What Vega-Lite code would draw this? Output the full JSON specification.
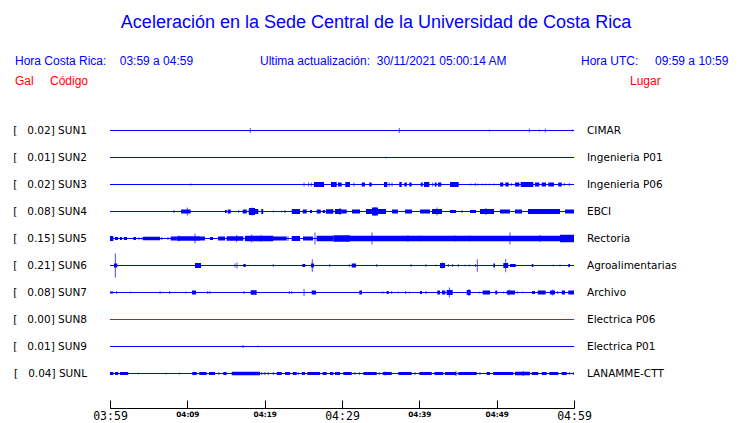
{
  "$schema": "https://vega.github.io/schema/vega-lite/v6.json",
  "width": 464,
  "height": 270,
  "autosize": {"type": "none"},
  "padding": {"left": 110, "top": 117, "right": 166, "bottom": 36},
  "background": "white",
  "title": {"text": "Aceleración en la Sede Central de la Universidad de Costa Rica", "color": "#0000ff", "font": "Liberation Sans", "fontSize": 18, "fontWeight": "normal", "anchor": "middle", "offset": 23, "dx": 34},
  "config": {"view": {"stroke": null}},
  "datasets": {
    "estaciones": [
      {"fila": 1, "codigo": "SUN1", "gal": 0.02, "lugar": "CIMAR"},
      {"fila": 2, "codigo": "SUN2", "gal": 0.01, "lugar": "Ingenieria P01"},
      {"fila": 3, "codigo": "SUN3", "gal": 0.02, "lugar": "Ingenieria P06"},
      {"fila": 4, "codigo": "SUN4", "gal": 0.08, "lugar": "EBCI"},
      {"fila": 5, "codigo": "SUN5", "gal": 0.15, "lugar": "Rectoria"},
      {"fila": 6, "codigo": "SUN6", "gal": 0.21, "lugar": "Agroalimentarias"},
      {"fila": 7, "codigo": "SUN7", "gal": 0.08, "lugar": "Archivo"},
      {"fila": 8, "codigo": "SUN8", "gal": 0.00, "lugar": "Electrica P06"},
      {"fila": 9, "codigo": "SUN9", "gal": 0.01, "lugar": "Electrica P01"},
      {"fila": 10, "codigo": "SUNL", "gal": 0.04, "lugar": "LANAMME-CTT"}
    ],
    "picos": [
      {"codigo": "SUN1", "t": 18.14, "amp": 0.05}, {"codigo": "SUN1", "t": 37.41, "amp": 0.05}, {"codigo": "SUN1", "t": 49.05, "amp": 0.02}, {"codigo": "SUN1", "t": 54.22, "amp": 0.04}, {"codigo": "SUN1", "t": 55.51, "amp": 0.02}, {"codigo": "SUN1", "t": 56.29, "amp": 0.04}, {"codigo": "SUN1", "t": 59.83, "amp": 0.02},
      {"codigo": "SUN2", "t": 35.69, "amp": 0.02},
      {"codigo": "SUN3", "t": 10.47, "amp": 0.02}, {"codigo": "SUN3", "t": 25.09, "amp": 0.04}, {"codigo": "SUN3", "t": 25.69, "amp": 0.04}, {"codigo": "SUN3", "t": 26.03, "amp": 0.04}, {"codigo": "SUN3", "t": 31.55, "amp": 0.04}, {"codigo": "SUN3", "t": 36.12, "amp": 0.04}, {"codigo": "SUN3", "t": 36.47, "amp": 0.04}, {"codigo": "SUN3", "t": 41.73, "amp": 0.04}, {"codigo": "SUN3", "t": 46.64, "amp": 0.02}, {"codigo": "SUN3", "t": 47.24, "amp": 0.03}, {"codigo": "SUN3", "t": 47.59, "amp": 0.02}, {"codigo": "SUN3", "t": 48.10, "amp": 0.02}, {"codigo": "SUN3", "t": 48.53, "amp": 0.02}, {"codigo": "SUN3", "t": 49.05, "amp": 0.02}, {"codigo": "SUN3", "t": 49.66, "amp": 0.02}, {"codigo": "SUN3", "t": 51.89, "amp": 0.03}, {"codigo": "SUN3", "t": 58.75, "amp": 0.03}, {"codigo": "SUN3", "t": 59.39, "amp": 0.03},
      {"codigo": "SUN4", "t": 8.28, "amp": 0.03}, {"codigo": "SUN4", "t": 10.00, "amp": 0.08}, {"codigo": "SUN4", "t": 16.64, "amp": 0.03}, {"codigo": "SUN4", "t": 18.36, "amp": 0.08}, {"codigo": "SUN4", "t": 21.12, "amp": 0.02}, {"codigo": "SUN4", "t": 22.20, "amp": 0.02}, {"codigo": "SUN4", "t": 22.63, "amp": 0.03}, {"codigo": "SUN4", "t": 29.74, "amp": 0.07}, {"codigo": "SUN4", "t": 34.27, "amp": 0.09}, {"codigo": "SUN4", "t": 42.28, "amp": 0.08}, {"codigo": "SUN4", "t": 45.52, "amp": 0.03}, {"codigo": "SUN4", "t": 48.62, "amp": 0.07},
      {"codigo": "SUN5", "t": 3.75, "amp": 0.03}, {"codigo": "SUN5", "t": 4.14, "amp": 0.03}, {"codigo": "SUN5", "t": 6.69, "amp": 0.03}, {"codigo": "SUN5", "t": 7.50, "amp": 0.03}, {"codigo": "SUN5", "t": 8.92, "amp": 0.06}, {"codigo": "SUN5", "t": 10.99, "amp": 0.10}, {"codigo": "SUN5", "t": 16.38, "amp": 0.07}, {"codigo": "SUN5", "t": 18.32, "amp": 0.08}, {"codigo": "SUN5", "t": 19.53, "amp": 0.07}, {"codigo": "SUN5", "t": 23.02, "amp": 0.05}, {"codigo": "SUN5", "t": 26.51, "amp": 0.12}, {"codigo": "SUN5", "t": 33.88, "amp": 0.12}, {"codigo": "SUN5", "t": 38.53, "amp": 0.07}, {"codigo": "SUN5", "t": 40.09, "amp": 0.06}, {"codigo": "SUN5", "t": 44.61, "amp": 0.06}, {"codigo": "SUN5", "t": 46.55, "amp": 0.06}, {"codigo": "SUN5", "t": 51.72, "amp": 0.12}, {"codigo": "SUN5", "t": 55.60, "amp": 0.07},
      {"codigo": "SUN6", "t": 0.69, "amp": 0.24}, {"codigo": "SUN6", "t": 16.16, "amp": 0.04}, {"codigo": "SUN6", "t": 16.42, "amp": 0.06}, {"codigo": "SUN6", "t": 21.12, "amp": 0.03}, {"codigo": "SUN6", "t": 26.16, "amp": 0.127}, {"codigo": "SUN6", "t": 28.41, "amp": 0.03}, {"codigo": "SUN6", "t": 30.94, "amp": 0.03}, {"codigo": "SUN6", "t": 34.49, "amp": 0.03}, {"codigo": "SUN6", "t": 38.92, "amp": 0.03}, {"codigo": "SUN6", "t": 40.86, "amp": 0.03}, {"codigo": "SUN6", "t": 42.16, "amp": 0.02}, {"codigo": "SUN6", "t": 42.97, "amp": 0.06}, {"codigo": "SUN6", "t": 43.75, "amp": 0.03}, {"codigo": "SUN6", "t": 44.31, "amp": 0.03}, {"codigo": "SUN6", "t": 45.04, "amp": 0.03}, {"codigo": "SUN6", "t": 45.91, "amp": 0.02}, {"codigo": "SUN6", "t": 46.46, "amp": 0.02}, {"codigo": "SUN6", "t": 47.24, "amp": 0.03}, {"codigo": "SUN6", "t": 47.50, "amp": 0.127}, {"codigo": "SUN6", "t": 51.17, "amp": 0.137}, {"codigo": "SUN6", "t": 57.32, "amp": 0.02}, {"codigo": "SUN6", "t": 58.19, "amp": 0.02},
      {"codigo": "SUN7", "t": 0.87, "amp": 0.03}, {"codigo": "SUN7", "t": 2.68, "amp": 0.02}, {"codigo": "SUN7", "t": 6.47, "amp": 0.03}, {"codigo": "SUN7", "t": 7.72, "amp": 0.03}, {"codigo": "SUN7", "t": 9.79, "amp": 0.02}, {"codigo": "SUN7", "t": 12.63, "amp": 0.03}, {"codigo": "SUN7", "t": 12.93, "amp": 0.03}, {"codigo": "SUN7", "t": 17.33, "amp": 0.03}, {"codigo": "SUN7", "t": 23.19, "amp": 0.03}, {"codigo": "SUN7", "t": 23.50, "amp": 0.03}, {"codigo": "SUN7", "t": 25.09, "amp": 0.07}, {"codigo": "SUN7", "t": 27.89, "amp": 0.01}, {"codigo": "SUN7", "t": 35.13, "amp": 0.02}, {"codigo": "SUN7", "t": 35.39, "amp": 0.02}, {"codigo": "SUN7", "t": 36.43, "amp": 0.03}, {"codigo": "SUN7", "t": 37.28, "amp": 0.02}, {"codigo": "SUN7", "t": 38.24, "amp": 0.03}, {"codigo": "SUN7", "t": 38.70, "amp": 0.02}, {"codigo": "SUN7", "t": 40.86, "amp": 0.03}, {"codigo": "SUN7", "t": 43.88, "amp": 0.10}, {"codigo": "SUN7", "t": 46.42, "amp": 0.07}, {"codigo": "SUN7", "t": 47.75, "amp": 0.02}, {"codigo": "SUN7", "t": 50.86, "amp": 0.02}, {"codigo": "SUN7", "t": 51.60, "amp": 0.06}, {"codigo": "SUN7", "t": 52.72, "amp": 0.02}, {"codigo": "SUN7", "t": 53.37, "amp": 0.02}, {"codigo": "SUN7", "t": 57.25, "amp": 0.06}, {"codigo": "SUN7", "t": 57.89, "amp": 0.03},
      {"codigo": "SUN9", "t": 17.20, "amp": 0.03}, {"codigo": "SUN9", "t": 19.14, "amp": 0.02},
      {"codigo": "SUNL", "t": 3.66, "amp": 0.02}, {"codigo": "SUNL", "t": 7.24, "amp": 0.02}, {"codigo": "SUNL", "t": 8.96, "amp": 0.02}, {"codigo": "SUNL", "t": 14.09, "amp": 0.03}, {"codigo": "SUNL", "t": 19.62, "amp": 0.03}, {"codigo": "SUNL", "t": 20.04, "amp": 0.03}, {"codigo": "SUNL", "t": 20.47, "amp": 0.03}, {"codigo": "SUNL", "t": 21.12, "amp": 0.03}, {"codigo": "SUNL", "t": 24.35, "amp": 0.03}, {"codigo": "SUNL", "t": 31.68, "amp": 0.03}, {"codigo": "SUNL", "t": 32.24, "amp": 0.03}, {"codigo": "SUNL", "t": 34.82, "amp": 0.03}, {"codigo": "SUNL", "t": 35.56, "amp": 0.04}, {"codigo": "SUNL", "t": 39.44, "amp": 0.03}, {"codigo": "SUNL", "t": 44.74, "amp": 0.05}, {"codigo": "SUNL", "t": 47.84, "amp": 0.03}, {"codigo": "SUNL", "t": 53.44, "amp": 0.05}, {"codigo": "SUNL", "t": 59.39, "amp": 0.03}, {"codigo": "SUNL", "t": 59.91, "amp": 0.03}
    ],
    "rafagas": [
      {"codigo": "SUN3", "t0": 26.38, "t1": 27.67, "amp": 0.05}, {"codigo": "SUN3", "t0": 28.58, "t1": 29.31, "amp": 0.05}, {"codigo": "SUN3", "t0": 29.48, "t1": 29.96, "amp": 0.04}, {"codigo": "SUN3", "t0": 30.43, "t1": 31.03, "amp": 0.05}, {"codigo": "SUN3", "t0": 32.55, "t1": 32.97, "amp": 0.04}, {"codigo": "SUN3", "t0": 33.53, "t1": 33.84, "amp": 0.04}, {"codigo": "SUN3", "t0": 35.43, "t1": 35.86, "amp": 0.05}, {"codigo": "SUN3", "t0": 37.41, "t1": 37.72, "amp": 0.05}, {"codigo": "SUN3", "t0": 38.06, "t1": 38.37, "amp": 0.04}, {"codigo": "SUN3", "t0": 38.70, "t1": 39.01, "amp": 0.04}, {"codigo": "SUN3", "t0": 40.18, "t1": 40.44, "amp": 0.04}, {"codigo": "SUN3", "t0": 40.60, "t1": 41.29, "amp": 0.05}, {"codigo": "SUN3", "t0": 41.99, "t1": 42.24, "amp": 0.04}, {"codigo": "SUN3", "t0": 42.41, "t1": 42.84, "amp": 0.04}, {"codigo": "SUN3", "t0": 43.97, "t1": 45.09, "amp": 0.05}, {"codigo": "SUN3", "t0": 50.43, "t1": 50.86, "amp": 0.04}, {"codigo": "SUN3", "t0": 51.12, "t1": 51.56, "amp": 0.04}, {"codigo": "SUN3", "t0": 52.37, "t1": 52.93, "amp": 0.04}, {"codigo": "SUN3", "t0": 53.11, "t1": 54.74, "amp": 0.05}, {"codigo": "SUN3", "t0": 54.96, "t1": 55.51, "amp": 0.04}, {"codigo": "SUN3", "t0": 55.82, "t1": 56.38, "amp": 0.04}, {"codigo": "SUN3", "t0": 56.68, "t1": 57.41, "amp": 0.04}, {"codigo": "SUN3", "t0": 57.97, "t1": 58.41, "amp": 0.04},
      {"codigo": "SUN4", "t0": 9.18, "t1": 10.44, "amp": 0.04}, {"codigo": "SUN4", "t0": 14.87, "t1": 15.09, "amp": 0.03}, {"codigo": "SUN4", "t0": 15.22, "t1": 15.61, "amp": 0.04}, {"codigo": "SUN4", "t0": 17.16, "t1": 17.68, "amp": 0.04}, {"codigo": "SUN4", "t0": 17.94, "t1": 19.18, "amp": 0.05}, {"codigo": "SUN4", "t0": 17.97, "t1": 18.75, "amp": 0.07}, {"codigo": "SUN4", "t0": 19.56, "t1": 19.81, "amp": 0.05}, {"codigo": "SUN4", "t0": 23.50, "t1": 24.57, "amp": 0.05}, {"codigo": "SUN4", "t0": 24.92, "t1": 25.44, "amp": 0.04}, {"codigo": "SUN4", "t0": 25.86, "t1": 26.12, "amp": 0.03}, {"codigo": "SUN4", "t0": 26.73, "t1": 27.25, "amp": 0.04}, {"codigo": "SUN4", "t0": 27.50, "t1": 27.80, "amp": 0.03}, {"codigo": "SUN4", "t0": 27.93, "t1": 28.88, "amp": 0.045}, {"codigo": "SUN4", "t0": 29.09, "t1": 29.96, "amp": 0.05}, {"codigo": "SUN4", "t0": 29.96, "t1": 30.61, "amp": 0.04}, {"codigo": "SUN4", "t0": 31.29, "t1": 32.33, "amp": 0.04}, {"codigo": "SUN4", "t0": 33.10, "t1": 35.69, "amp": 0.05}, {"codigo": "SUN4", "t0": 33.88, "t1": 34.66, "amp": 0.08}, {"codigo": "SUN4", "t0": 36.47, "t1": 37.24, "amp": 0.04}, {"codigo": "SUN4", "t0": 38.15, "t1": 39.05, "amp": 0.04}, {"codigo": "SUN4", "t0": 40.09, "t1": 41.38, "amp": 0.04}, {"codigo": "SUN4", "t0": 41.64, "t1": 42.93, "amp": 0.05}, {"codigo": "SUN4", "t0": 43.97, "t1": 44.74, "amp": 0.03}, {"codigo": "SUN4", "t0": 46.55, "t1": 47.33, "amp": 0.03}, {"codigo": "SUN4", "t0": 47.84, "t1": 49.66, "amp": 0.05}, {"codigo": "SUN4", "t0": 50.43, "t1": 51.72, "amp": 0.04}, {"codigo": "SUN4", "t0": 52.37, "t1": 53.28, "amp": 0.04}, {"codigo": "SUN4", "t0": 54.05, "t1": 58.19, "amp": 0.05}, {"codigo": "SUN4", "t0": 58.84, "t1": 60.0, "amp": 0.04},
      {"codigo": "SUN5", "t0": 0.0, "t1": 0.43, "amp": 0.05}, {"codigo": "SUN5", "t0": 0.65, "t1": 1.03, "amp": 0.03}, {"codigo": "SUN5", "t0": 1.29, "t1": 1.55, "amp": 0.03}, {"codigo": "SUN5", "t0": 1.81, "t1": 2.20, "amp": 0.03}, {"codigo": "SUN5", "t0": 3.01, "t1": 3.36, "amp": 0.03}, {"codigo": "SUN5", "t0": 4.27, "t1": 6.47, "amp": 0.035}, {"codigo": "SUN5", "t0": 7.85, "t1": 8.62, "amp": 0.04}, {"codigo": "SUN5", "t0": 8.62, "t1": 11.64, "amp": 0.045}, {"codigo": "SUN5", "t0": 11.64, "t1": 12.28, "amp": 0.04}, {"codigo": "SUN5", "t0": 12.93, "t1": 13.32, "amp": 0.03}, {"codigo": "SUN5", "t0": 13.97, "t1": 14.87, "amp": 0.04}, {"codigo": "SUN5", "t0": 15.09, "t1": 17.24, "amp": 0.045}, {"codigo": "SUN5", "t0": 17.46, "t1": 21.12, "amp": 0.055}, {"codigo": "SUN5", "t0": 21.08, "t1": 22.85, "amp": 0.04}, {"codigo": "SUN5", "t0": 23.50, "t1": 24.57, "amp": 0.05}, {"codigo": "SUN5", "t0": 24.96, "t1": 26.25, "amp": 0.04}, {"codigo": "SUN5", "t0": 26.73, "t1": 28.88, "amp": 0.055}, {"codigo": "SUN5", "t0": 28.88, "t1": 31.03, "amp": 0.065}, {"codigo": "SUN5", "t0": 31.03, "t1": 60.0, "amp": 0.055}, {"codigo": "SUN5", "t0": 58.19, "t1": 60.0, "amp": 0.075},
      {"codigo": "SUN6", "t0": 0.52, "t1": 0.94, "amp": 0.04}, {"codigo": "SUN6", "t0": 10.99, "t1": 11.77, "amp": 0.05}, {"codigo": "SUN6", "t0": 17.24, "t1": 17.55, "amp": 0.03}, {"codigo": "SUN6", "t0": 24.87, "t1": 25.25, "amp": 0.03}, {"codigo": "SUN6", "t0": 25.99, "t1": 26.38, "amp": 0.04}, {"codigo": "SUN6", "t0": 31.25, "t1": 31.81, "amp": 0.04}, {"codigo": "SUN6", "t0": 42.67, "t1": 43.32, "amp": 0.05}, {"codigo": "SUN6", "t0": 49.57, "t1": 49.78, "amp": 0.04}, {"codigo": "SUN6", "t0": 50.86, "t1": 51.50, "amp": 0.05}, {"codigo": "SUN6", "t0": 51.72, "t1": 52.46, "amp": 0.03}, {"codigo": "SUN6", "t0": 54.53, "t1": 54.74, "amp": 0.03}, {"codigo": "SUN6", "t0": 59.26, "t1": 59.48, "amp": 0.03},
      {"codigo": "SUN7", "t0": 0.0, "t1": 0.43, "amp": 0.02}, {"codigo": "SUN7", "t0": 10.60, "t1": 11.12, "amp": 0.04}, {"codigo": "SUN7", "t0": 18.19, "t1": 18.97, "amp": 0.045}, {"codigo": "SUN7", "t0": 26.08, "t1": 26.64, "amp": 0.04}, {"codigo": "SUN7", "t0": 32.24, "t1": 32.59, "amp": 0.04}, {"codigo": "SUN7", "t0": 35.78, "t1": 36.04, "amp": 0.03}, {"codigo": "SUN7", "t0": 40.09, "t1": 40.35, "amp": 0.03}, {"codigo": "SUN7", "t0": 42.32, "t1": 42.67, "amp": 0.04}, {"codigo": "SUN7", "t0": 42.93, "t1": 43.36, "amp": 0.04}, {"codigo": "SUN7", "t0": 43.54, "t1": 44.31, "amp": 0.05}, {"codigo": "SUN7", "t0": 46.13, "t1": 46.64, "amp": 0.05}, {"codigo": "SUN7", "t0": 48.19, "t1": 49.14, "amp": 0.04}, {"codigo": "SUN7", "t0": 49.82, "t1": 50.07, "amp": 0.04}, {"codigo": "SUN7", "t0": 51.30, "t1": 52.37, "amp": 0.04}, {"codigo": "SUN7", "t0": 54.57, "t1": 54.96, "amp": 0.03}, {"codigo": "SUN7", "t0": 55.31, "t1": 56.34, "amp": 0.04}, {"codigo": "SUN7", "t0": 56.90, "t1": 57.54, "amp": 0.04}, {"codigo": "SUN7", "t0": 58.41, "t1": 58.84, "amp": 0.04}, {"codigo": "SUN7", "t0": 59.26, "t1": 60.0, "amp": 0.04},
      {"codigo": "SUNL", "t0": 0.0, "t1": 0.43, "amp": 0.03}, {"codigo": "SUNL", "t0": 0.65, "t1": 1.07, "amp": 0.03}, {"codigo": "SUNL", "t0": 1.29, "t1": 2.37, "amp": 0.03}, {"codigo": "SUNL", "t0": 10.64, "t1": 11.21, "amp": 0.03}, {"codigo": "SUNL", "t0": 11.55, "t1": 12.50, "amp": 0.03}, {"codigo": "SUNL", "t0": 12.80, "t1": 13.58, "amp": 0.03}, {"codigo": "SUNL", "t0": 14.65, "t1": 15.09, "amp": 0.03}, {"codigo": "SUNL", "t0": 15.74, "t1": 19.40, "amp": 0.035}, {"codigo": "SUNL", "t0": 21.56, "t1": 22.20, "amp": 0.03}, {"codigo": "SUNL", "t0": 22.63, "t1": 23.28, "amp": 0.03}, {"codigo": "SUNL", "t0": 23.63, "t1": 24.14, "amp": 0.03}, {"codigo": "SUNL", "t0": 24.79, "t1": 25.22, "amp": 0.03}, {"codigo": "SUNL", "t0": 25.51, "t1": 27.16, "amp": 0.03}, {"codigo": "SUNL", "t0": 27.50, "t1": 28.02, "amp": 0.03}, {"codigo": "SUNL", "t0": 28.45, "t1": 28.88, "amp": 0.03}, {"codigo": "SUNL", "t0": 29.09, "t1": 29.74, "amp": 0.03}, {"codigo": "SUNL", "t0": 30.17, "t1": 31.25, "amp": 0.03}, {"codigo": "SUNL", "t0": 32.76, "t1": 34.49, "amp": 0.03}, {"codigo": "SUNL", "t0": 35.26, "t1": 36.43, "amp": 0.03}, {"codigo": "SUNL", "t0": 37.28, "t1": 39.01, "amp": 0.03}, {"codigo": "SUNL", "t0": 40.00, "t1": 41.60, "amp": 0.03}, {"codigo": "SUNL", "t0": 41.94, "t1": 43.10, "amp": 0.03}, {"codigo": "SUNL", "t0": 43.32, "t1": 44.74, "amp": 0.03}, {"codigo": "SUNL", "t0": 45.04, "t1": 47.42, "amp": 0.03}, {"codigo": "SUNL", "t0": 48.71, "t1": 49.14, "amp": 0.03}, {"codigo": "SUNL", "t0": 49.56, "t1": 52.15, "amp": 0.03}, {"codigo": "SUNL", "t0": 52.37, "t1": 54.31, "amp": 0.035}, {"codigo": "SUNL", "t0": 54.53, "t1": 55.38, "amp": 0.03}, {"codigo": "SUNL", "t0": 55.82, "t1": 56.47, "amp": 0.03}, {"codigo": "SUNL", "t0": 56.81, "t1": 57.97, "amp": 0.03}, {"codigo": "SUNL", "t0": 58.41, "t1": 59.06, "amp": 0.03}
    ]
  },
  "layer": [
    {
      "data": {"name": "estaciones"},
      "mark": {"type": "rule", "strokeWidth": 1},
      "encoding": {
        "x": {"datum": 0, "type": "quantitative", "scale": {"domain": [0, 60], "nice": false, "zero": false, "padding": 0},
          "axis": {"values": [0, 5, 10, 15, 20, 25, 30, 35, 40, 45, 50, 55, 60], "title": null, "grid": false, "offset": 21, "tickSize": -8, "labelPadding": 10.5, "domainColor": "black", "tickColor": "black", "labelColor": "black", "labelFlush": false, "labelOverlap": false,
            "labelExpr": "datum.value % 10 != 0 ? '' : (datum.value == 0 ? '03:59' : '04:' + (datum.value - 1 < 10 ? '0' : '') + (datum.value - 1))",
            "labelFont": {"condition": {"test": "datum.value % 30 == 0", "value": "DejaVu Sans Mono"}, "value": "DejaVu Sans"},
            "labelFontSize": {"condition": {"test": "datum.value % 30 == 0", "value": 11.5}, "value": 7.3},
            "labelFontWeight": {"condition": {"test": "datum.value % 30 == 0", "value": "normal"}, "value": "bold"}}},
        "x2": {"datum": 60},
        "y": {"field": "fila", "type": "quantitative", "scale": {"domain": [0.5, 10.5], "reverse": true, "nice": false, "zero": false, "padding": 0}, "axis": null},
        "color": {"condition": {"test": "datum.codigo == 'SUN8'", "value": "#ff0000"}, "value": "#0000ff"}
      }
    },
    {
      "data": {"name": "rafagas"},
      "transform": [{"lookup": "codigo", "from": {"data": {"name": "estaciones"}, "key": "codigo", "fields": ["fila"]}}],
      "mark": {"type": "bar", "orient": "horizontal", "color": "#0000ff"},
      "encoding": {
        "x": {"field": "t0", "type": "quantitative", "title": null},
        "x2": {"field": "t1"},
        "y": {"field": "fila", "type": "quantitative", "axis": null},
        "size": {"field": "amp", "type": "quantitative", "scale": {"domain": [0, 1], "range": [0, 100]}, "legend": null}
      }
    },
    {
      "data": {"name": "picos"},
      "transform": [{"lookup": "codigo", "from": {"data": {"name": "estaciones"}, "key": "codigo", "fields": ["fila"]}}],
      "mark": {"type": "tick", "orient": "vertical", "thickness": 1, "color": "#0000ff"},
      "encoding": {
        "x": {"field": "t", "type": "quantitative", "title": null},
        "y": {"field": "fila", "type": "quantitative", "axis": null},
        "size": {"field": "amp", "type": "quantitative", "legend": null}
      }
    },
    {
      "data": {"name": "estaciones"},
      "transform": [{"calculate": "'[\u00a0\u00a0\u00a0' + format(datum.gal, '.2f') + ']\u00a0' + datum.codigo", "as": "etiqueta"}],
      "mark": {"type": "text", "align": "right", "baseline": "middle", "dx": -23, "font": "DejaVu Sans", "fontSize": 10.5, "color": "black"},
      "encoding": {
        "x": {"datum": 0, "type": "quantitative"},
        "y": {"field": "fila", "type": "quantitative", "axis": null},
        "text": {"field": "etiqueta"}
      }
    },
    {
      "data": {"name": "estaciones"},
      "mark": {"type": "text", "align": "left", "baseline": "middle", "dx": 13, "font": "DejaVu Sans", "fontSize": 10.5, "color": "black"},
      "encoding": {
        "x": {"datum": 60, "type": "quantitative"},
        "y": {"field": "fila", "type": "quantitative", "axis": null},
        "text": {"field": "lugar"}
      }
    },
    {
      "data": {"values": [{}]},
      "mark": {"type": "text", "align": "left", "baseline": "alphabetic", "font": "Liberation Sans", "fontSize": 12, "color": "#0000ff"},
      "encoding": {
        "x": {"datum": -12.284, "type": "quantitative"},
        "y": {"datum": -1.415, "type": "quantitative"},
        "text": {"value": "Hora Costa Rica:\u00a0\u00a0\u00a0 03:59 a 04:59"}
      }
    },
    {
      "data": {"values": [{}]},
      "mark": {"type": "text", "align": "left", "baseline": "alphabetic", "font": "Liberation Sans", "fontSize": 12, "color": "#0000ff"},
      "encoding": {
        "x": {"datum": 19.397, "type": "quantitative"},
        "y": {"datum": -1.415, "type": "quantitative"},
        "text": {"value": "Ultima actualización:\u00a0 30/11/2021 05:00:14 AM"}
      }
    },
    {
      "data": {"values": [{}]},
      "mark": {"type": "text", "align": "left", "baseline": "alphabetic", "font": "Liberation Sans", "fontSize": 12, "color": "#0000ff"},
      "encoding": {
        "x": {"datum": 60.905, "type": "quantitative"},
        "y": {"datum": -1.415, "type": "quantitative"},
        "text": {"value": "Hora UTC:\u00a0\u00a0\u00a0\u00a0 09:59 a 10:59"}
      }
    },
    {
      "data": {"values": [{}]},
      "mark": {"type": "text", "align": "left", "baseline": "alphabetic", "font": "Liberation Sans", "fontSize": 12, "color": "#ff0000"},
      "encoding": {
        "x": {"datum": -12.284, "type": "quantitative"},
        "y": {"datum": -0.685, "type": "quantitative"},
        "text": {"value": "Gal"}
      }
    },
    {
      "data": {"values": [{}]},
      "mark": {"type": "text", "align": "left", "baseline": "alphabetic", "font": "Liberation Sans", "fontSize": 12, "color": "#ff0000"},
      "encoding": {
        "x": {"datum": -7.759, "type": "quantitative"},
        "y": {"datum": -0.685, "type": "quantitative"},
        "text": {"value": "Código"}
      }
    },
    {
      "data": {"values": [{}]},
      "mark": {"type": "text", "align": "left", "baseline": "alphabetic", "font": "Liberation Sans", "fontSize": 12, "color": "#ff0000"},
      "encoding": {
        "x": {"datum": 67.24, "type": "quantitative"},
        "y": {"datum": -0.685, "type": "quantitative"},
        "text": {"value": "Lugar"}
      }
    }
  ]
}
